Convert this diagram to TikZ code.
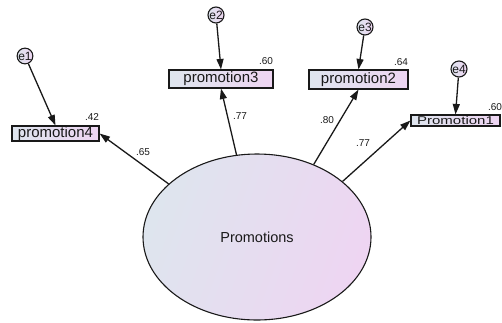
\documentclass[tikz,border=0pt]{standalone}
\usepackage{fontspec}
\setmainfont{Liberation Sans}
\usetikzlibrary{shapes.geometric,arrows.meta}
\definecolor{fillL}{RGB}{222,229,238}
\definecolor{fillR}{RGB}{238,213,242}
\definecolor{ink}{RGB}{25,25,25}
\tikzset{
  var/.style={draw=ink, line width=1.1pt, left color=fillL, right color=fillR,
    inner sep=0pt, text=ink, font=\fontsize{15}{15}\selectfont},
  err/.style={circle, draw=ink, line width=1.1pt, left color=fillL, right color=fillR,
    inner sep=0pt, text=ink, font=\fontsize{12}{12}\selectfont},
  val/.style={inner sep=0pt, text=ink, font=\fontsize{10}{10}\selectfont},
  link/.style={-{Triangle[length=10.5pt,width=7pt]}, line width=1.3pt, draw=ink}
}
\begin{document}
\begin{tikzpicture}[x=1pt,y=-1pt]
\useasboundingbox (0,0) rectangle (502,322);

% latent factor
\node[ellipse, draw=ink, line width=1.1pt, left color=fillL, right color=fillR,
  shading angle=70, minimum width=228pt, minimum height=166pt, inner sep=0pt,
  text=ink, font=\fontsize{14.5}{14.5}\selectfont] (F) at (257,237) {Promotions};

% observed indicators
\node[var, minimum width=87pt, minimum height=15pt] (p4) at (55.5,133.5) {promotion4};
\node[var, minimum width=104pt, minimum height=18pt] (p3) at (221,79) {promotion3};
\node[var, minimum width=99pt, minimum height=19pt] (p2) at (358.5,79.5) {promotion2};
\node[var, minimum width=89pt, minimum height=11pt] (p1) at (455.5,120.5) {\scalebox{1}[0.75]{Promotion1}};

% error terms
\node[err, minimum size=14pt] (e1) at (25,56) {e1};
\node[err, minimum size=16pt] (e2) at (216,15) {e2};
\node[err, minimum size=16pt] (e3) at (365,27) {e3};
\node[err, minimum size=16pt] (e4) at (459,69) {e4};

% paths
\draw[link] (e1) -- (p4.north);
\draw[link] (e2) -- (p3.north);
\draw[link] (e3) -- (p2.north);
\draw[link] (e4) -- (p1.north);
\draw[link] (F.149) -- (p4.east);
\draw[link] (F.104) -- (p3.south);
\draw[link] (F.52) -- (p2.south);
\draw[link] (F.33) -- (p1.west);

% estimates
\node[val] (r4) at (92,117) {.42};
\node[val] (r3) at (266,61) {.60};
\node[val] (r2) at (401,62) {.64};
\node[val] (r1) at (495,107) {.60};
\node[val] (l4) at (143,152) {.65};
\node[val] (l3) at (240,116) {.77};
\node[val] (l2) at (327,120) {.80};
\node[val] (l1) at (363,143) {.77};
\end{tikzpicture}
\end{document}
